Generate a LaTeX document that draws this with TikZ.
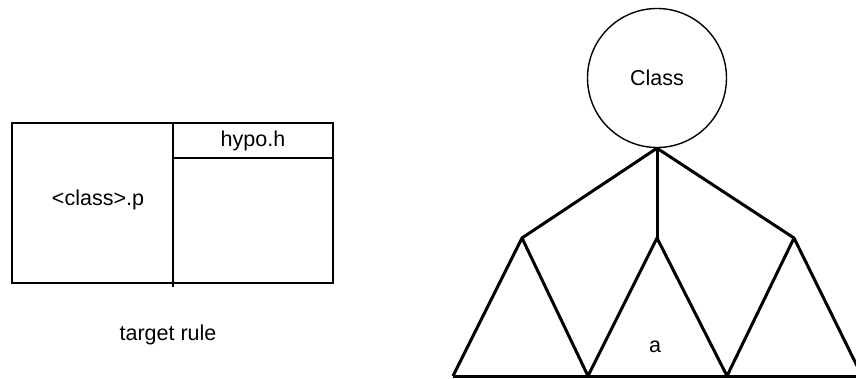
\documentclass[tikz,border=0pt]{standalone}
\usepackage{fontspec}
\setmainfont{Liberation Sans}
\usepackage{tikz}
\usetikzlibrary{positioning,shapes.geometric}

\begin{document}
\begin{tikzpicture}[x=1pt,y=-1pt, every node/.style={font=\fontsize{21.5}{25}\selectfont,inner sep=0pt}, thinline/.style={line width=1.4pt}, thickline/.style={line width=2.6pt}, tree/.style={line width=3pt,line join=round}, root/.style={draw,circle,line width=1.4pt,minimum size=139pt}]
\useasboundingbox (0,0) rectangle (856,379);
% target rule
\draw[thinline] (12,123) rectangle (333,283);
\draw[thickline] (173,123) rectangle (333,158);
\draw[thickline] (173,123) -- (173,287);
\node (prog) at (98,200) {<class>.p};
\node (hypo) at (253,141) {hypo.h};
\node (rule) at (168,335) {target rule};
% class tree
\node[root] (cls) at (657,78) {Class};
\coordinate (l) at (522,238);
\coordinate (m) at (657,238);
\coordinate (r) at (794,238);
\coordinate (b0) at (453,376);
\coordinate (b1) at (588,376);
\coordinate (b2) at (727,376);
\coordinate (b3) at (862,376);
\draw[tree] (cls.south)--(l);
\draw[tree] (cls.south)--(m);
\draw[tree] (cls.south)--(r);
\draw[tree] (b0)--(l)--(b1)--(m)--(b2)--(r)--(b3);
\draw[tree] (b0)--(b3);
\node (a) at (655,347) {a};
\end{tikzpicture}
\end{document}
